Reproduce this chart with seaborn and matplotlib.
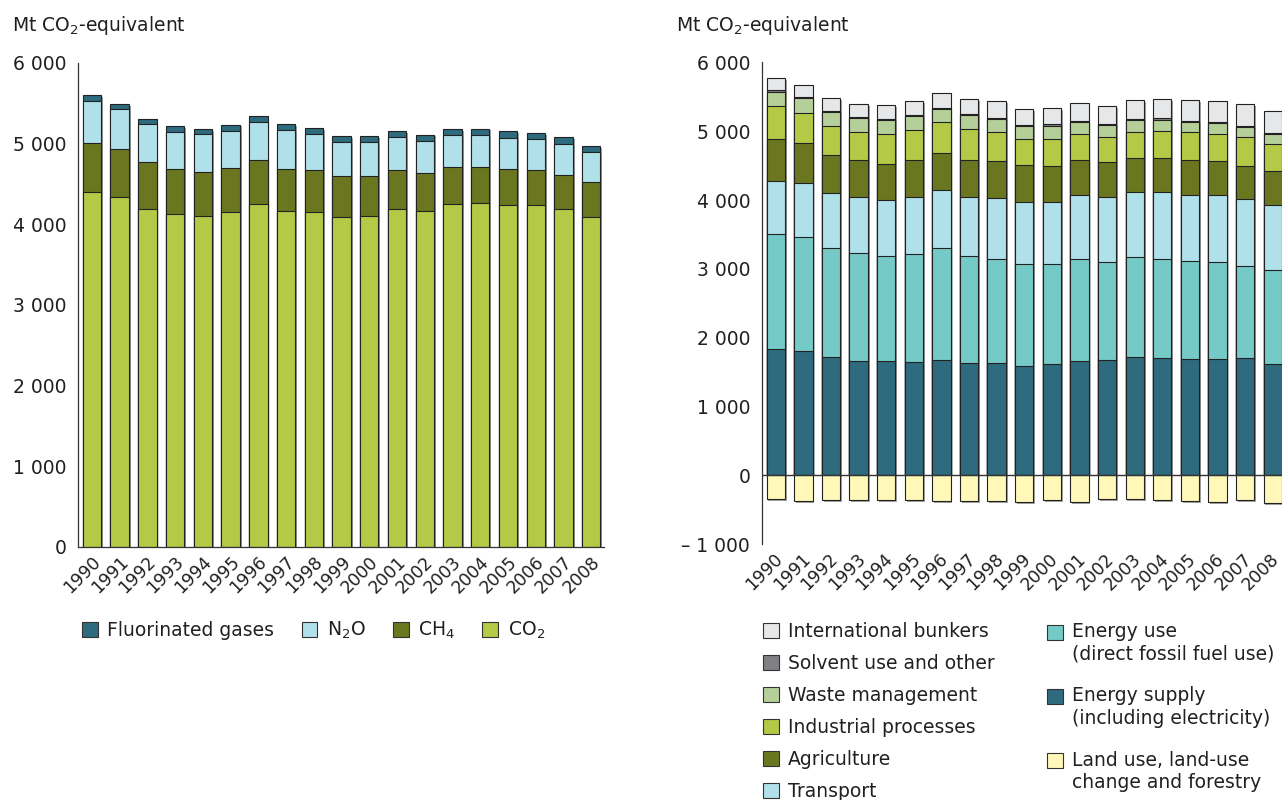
import numpy as np
import matplotlib
matplotlib.use("Agg")
import matplotlib.pyplot as plt
import matplotlib.patches as mpatches
import matplotlib.patheffects as pe
from matplotlib.legend_handler import HandlerPatch
from matplotlib.ticker import FuncFormatter, MultipleLocator
from matplotlib.transforms import ScaledTranslation
import seaborn as sns

years = [str(y) for y in range(1990, 2009)]

# left panel: by gas (Mt CO2-eq)
co2 = [4397, 4335, 4186, 4124, 4099, 4149, 4248, 4156, 4149, 4087,
       4103, 4186, 4161, 4248, 4261, 4236, 4236, 4181, 4087]
ch4 = [603, 595, 578, 558, 550, 545, 541, 526, 516, 504,
       492, 479, 475, 463, 450, 441, 434, 431, 429]
n2o = [526, 497, 477, 463, 463, 463, 476, 479, 452, 426,
       422, 414, 397, 393, 397, 394, 385, 380, 372]
fgas = [66, 62, 61, 66, 66, 75, 75, 80, 74, 75,
        70, 70, 75, 74, 74, 83, 74, 82, 80]

# right panel: by sector (Mt CO2-eq)
energy_supply = [1841, 1802, 1720, 1657, 1657, 1652, 1681, 1628, 1638, 1594,
                 1618, 1657, 1676, 1720, 1710, 1691, 1696, 1705, 1618]
energy_use = [1671, 1667, 1589, 1580, 1531, 1561, 1619, 1556, 1502, 1474,
              1454, 1483, 1430, 1449, 1440, 1430, 1405, 1334, 1363]
transport = [769, 778, 793, 807, 812, 826, 851, 865, 894, 908,
             904, 928, 938, 943, 962, 957, 967, 976, 952]
agriculture = [610, 586, 552, 542, 528, 538, 532, 537, 538, 533,
               523, 513, 504, 494, 494, 499, 494, 484, 494]
industrial = [470, 431, 416, 402, 436, 445, 446, 446, 416, 377,
              392, 378, 372, 387, 397, 406, 402, 412, 387]
waste = [208, 213, 209, 199, 194, 199, 193, 203, 189, 189,
         189, 170, 170, 169, 164, 146, 150, 145, 145]
solvent = [24, 19, 19, 19, 19, 19, 20, 19, 19, 20,
           20, 19, 19, 20, 20, 19, 19, 19, 19]
bunkers = [184, 175, 189, 194, 198, 194, 213, 213, 238, 232,
           242, 261, 262, 266, 280, 305, 310, 320, 315]
lulucf = [-343, -377, -367, -362, -367, -362, -377, -377, -372, -386,
          -362, -396, -353, -343, -362, -372, -391, -367, -406]

C_DARK = "#2f6b7f"
C_LBLUE = "#b0e0e9"
C_OLIVE = "#6b7720"
C_LIME = "#b4ca46"
C_TEAL = "#75cac7"
C_WASTE = "#b5cf99"
C_SOLV = "#808084"
C_BUNK = "#e6e7e9"
C_LULU = "#fff8b8"
EDGE = "#222222"
TXT = "#231f20"
AX = "#333333"

sns.set_style("white")
plt.rcParams["font.family"] = ["DejaVu Sans"]
plt.rcParams["mathtext.default"] = "regular"
plt.rcParams["text.color"] = TXT
plt.rcParams["xtick.color"] = TXT
plt.rcParams["ytick.color"] = TXT

W, H = 1282, 800
fig = plt.figure(figsize=(12.82, 8), dpi=100)
ax1 = fig.add_axes([78 / W, 1 - 547 / H, (603.5 - 78) / W, (547 - 62.5) / H])
ax2 = fig.add_axes([762 / W, 1 - 544 / H, (1282 - 762) / W, (544 - 62.5) / H])


def stacked(ax, layers, colors):
    # seaborn has no stacking: draw cumulative totals, tallest first
    cum = np.cumsum(np.array(layers), axis=0)
    for tot, col in reversed(list(zip(cum, colors))):
        sns.barplot(x=years, y=tot, color=col, saturation=1, width=0.66,
                    edgecolor=EDGE, linewidth=0.8, errorbar=None, ax=ax)


stacked(ax1, [co2, ch4, n2o, fgas], [C_LIME, C_OLIVE, C_LBLUE, C_DARK])
stacked(ax2, [energy_supply, energy_use, transport, agriculture, industrial,
              waste, solvent, bunkers],
        [C_DARK, C_TEAL, C_LBLUE, C_OLIVE, C_LIME, C_WASTE, C_SOLV, C_BUNK])
sns.barplot(x=years, y=lulucf, color=C_LULU, saturation=1, width=0.66,
            edgecolor=EDGE, linewidth=0.8, errorbar=None, ax=ax2)

shadow = [pe.SimplePatchShadow(offset=(1.3, -1.3), shadow_rgbFace="0.55", alpha=0.8),
          pe.Normal()]
for ax in (ax1, ax2):
    for p in ax.patches:
        p.set_path_effects(shadow)


def thousands(v, pos):
    s = f"{abs(int(round(v))):,}".replace(",", " ")
    return "\u2013 " + s if v < 0 else s


for ax, ylim, xr, dx in ((ax1, (0, 6000), 18.44, 6), (ax2, (-1000, 6000), 18.34, 4)):
    ax.set_ylim(*ylim)
    ax.set_xlim(-0.5, xr)
    ax.set_xlabel("")
    ax.set_ylabel("")
    ax.yaxis.set_major_locator(MultipleLocator(1000))
    ax.yaxis.set_major_formatter(FuncFormatter(thousands))
    for s in ("top", "right"):
        ax.spines[s].set_visible(False)
    for s in ("left", "bottom"):
        ax.spines[s].set_color(AX)
        ax.spines[s].set_linewidth(0.9)
    ax.tick_params(axis="y", length=4.5, width=0.9, color=AX, pad=4, labelsize=13.5)
    ax.tick_params(axis="x", length=0, pad=9, labelsize=12.5)
    ax.set_xticks(range(len(years)))
    ax.set_xticklabels(years, rotation=45, ha="right", va="center",
                       rotation_mode="anchor")
    off = ScaledTranslation(dx / 100, 0, fig.dpi_scale_trans)
    for lab in ax.get_xticklabels():
        lab.set_transform(lab.get_transform() + off)

ax2.spines["bottom"].set_visible(False)
ax2.axhline(0, color=AX, linewidth=1.0, zorder=5)

fig.text(12 / W, 1 - 31 / H, "Mt CO$_2$-equivalent", fontsize=13.5, va="baseline")
fig.text(676 / W, 1 - 31 / H, "Mt CO$_2$-equivalent", fontsize=13.5, va="baseline")


def patch(c, label):
    return mpatches.Patch(facecolor=c, edgecolor=AX, linewidth=0.8, label=label)


common = dict(loc="upper left", frameon=False, fontsize=13.5, handlelength=0.85,
              handleheight=0.85, handletextpad=0.5, borderpad=0, borderaxespad=0)

fig.legend(handles=[patch(C_DARK, "Fluorinated gases"), patch(C_LBLUE, "N$_2$O"),
                    patch(C_OLIVE, "CH$_4$"), patch(C_LIME, "CO$_2$")],
           ncol=4, columnspacing=1.45, bbox_to_anchor=(82 / W, 1 - 620 / H), **common)

fig.legend(handles=[patch(C_BUNK, "International bunkers"),
                    patch(C_SOLV, "Solvent use and other"),
                    patch(C_WASTE, "Waste management"),
                    patch(C_LIME, "Industrial processes"),
                    patch(C_OLIVE, "Agriculture"),
                    patch(C_LBLUE, "Transport")],
           labelspacing=0.69, bbox_to_anchor=(763 / W, 1 - 622 / H), **common)


def top_square(legend, orig_handle, xdescent, ydescent, width, height, fontsize):
    # keep the swatch level with the first line of a two-line label
    return mpatches.Rectangle((-xdescent, -ydescent + 8.3), width, height)


leg = fig.legend(handles=[patch(C_TEAL, "Energy use\n(direct fossil fuel use)"),
                          patch(C_DARK, "Energy supply\n(including electricity)"),
                          patch(C_LULU, "Land use, land-use\nchange and forestry")],
                 labelspacing=1.2, bbox_to_anchor=(1047 / W, 1 - 622 / H),
                 handler_map={mpatches.Patch: HandlerPatch(patch_func=top_square)},
                 **common)
for t in leg.get_texts():
    t.set_linespacing(1.25)

fig.savefig("out.png", dpi=100)
